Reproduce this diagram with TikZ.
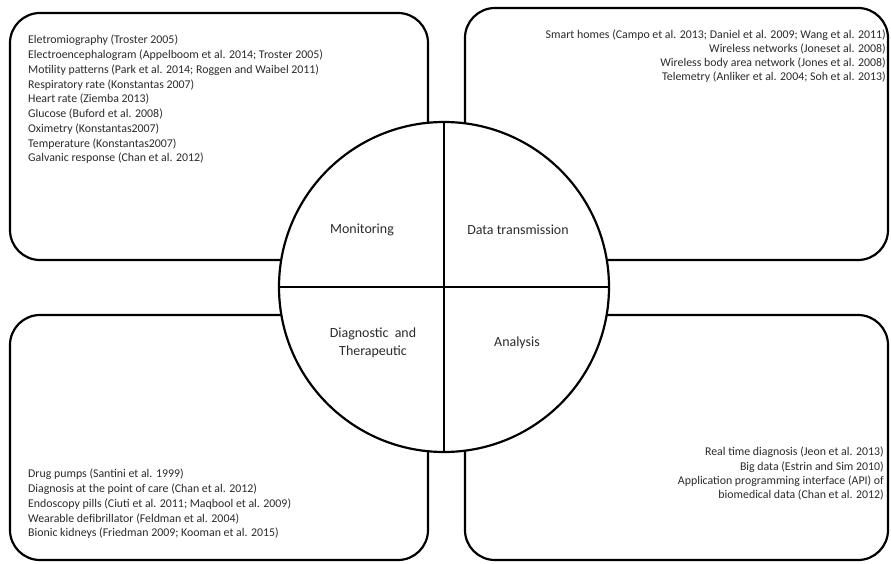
\documentclass[tikz,border=0pt]{standalone}
\usepackage{fontspec}
\setmainfont{Carlito}
\usetikzlibrary{positioning}
\definecolor{ink}{HTML}{000000}
\definecolor{txt}{HTML}{2B2B2B}

\begin{document}
\begin{tikzpicture}[x=1bp, y=-1bp,
  quad/.style={draw=ink, line width=2.2pt, rounded corners=30bp, fill=white, inner sep=0pt},
  refs/.style={font=\fontsize{11.9}{14.8}\selectfont, text=txt, inner sep=0pt},
  part/.style={font=\fontsize{14}{18}\selectfont, text=txt, align=center, inner sep=0pt}]
\useasboundingbox (0,0) rectangle (891,564);
% ---------------- four rounded boxes
\node[quad, minimum width=418bp, minimum height=247bp] (qtl) at (219,136.5) {};
\node[quad, minimum width=423bp, minimum height=252bp] (qtr) at (676.5,134) {};
\node[quad, minimum width=418bp, minimum height=245bp] (qbl) at (219,437.5) {};
\node[quad, minimum width=423bp, minimum height=245bp] (qbr) at (676.5,437.5) {};
% ---------------- reference lists
\node[refs, align=left, anchor=north west] (ltl) at (28,35) {Eletromiography (Troster 2005)\\
  Electroencephalogram (Appelboom et al. 2014; Troster 2005)\\
  Motility patterns (Park et al. 2014; Roggen and Waibel 2011)\\
  Respiratory rate (Konstantas 2007)\\
  Heart rate (Ziemba 2013)\\
  Glucose (Buford et al. 2008)\\
  Oximetry (Konstantas2007)\\
  Temperature (Konstantas2007)\\
  Galvanic response (Chan et al. 2012)};
\node[refs, align=right, anchor=north east, font=\fontsize{11.9}{14}\selectfont] (ltr) at (886,30) {Smart homes (Campo et al. 2013; Daniel et al. 2009; Wang et al. 2011)\\
  Wireless networks (Joneset al. 2008)\\
  Wireless body area network (Jones et al. 2008)\\
  Telemetry (Anliker et al. 2004; Soh et al. 2013)};
\node[refs, align=left, anchor=north west] (lbl) at (28,469) {Drug pumps (Santini et al. 1999)\\
  Diagnosis at the point of care (Chan et al. 2012)\\
  Endoscopy pills (Ciuti et al. 2011; Maqbool et al. 2009)\\
  Wearable defibrillator (Feldman et al. 2004)\\
  Bionic kidneys (Friedman 2009; Kooman et al. 2015)};
\node[refs, align=right, anchor=north east, font=\fontsize{11.9}{14.2}\selectfont] (lbr) at (884,447) {Real time diagnosis (Jeon et al. 2013)\\
  Big data (Estrin and Sim 2010)\\
  Application programming interface (API) of\\
  biomedical data (Chan et al. 2012)};
% ---------------- central circle
\node[circle, draw=ink, line width=2.2pt, fill=white, minimum size=330bp, inner sep=0pt] (hub) at (444,287) {};
\draw[ink, line width=2.2pt] (hub.north) -- (hub.south);
\draw[ink, line width=2.2pt] (hub.west) -- (hub.east);
\node[part] (mon) at (362,230) {Monitoring};
\node[part] (dat) at (518,230) {Data transmission};
\node[part] (dia) at (373,343) {Diagnostic\ \ and\\Therapeutic};
\node[part] (ana) at (517,343) {Analysis};
\end{tikzpicture}
\end{document}
